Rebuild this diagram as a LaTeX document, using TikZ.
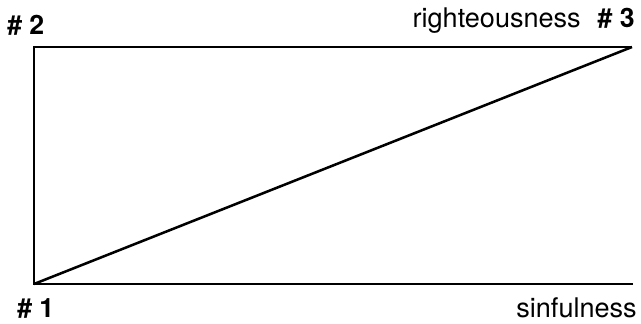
\documentclass[tikz,border=0pt]{standalone}
\usepackage{fontspec}
\setmainfont{TeX Gyre Heros}
\usetikzlibrary{positioning}

\begin{document}
\begin{tikzpicture}[
        x=0.75pt, y=-0.75pt,
        % Styles
        frame/.style={draw=black, line width=1.9pt},
        corner/.style={font=\fontsize{20}{22}\selectfont\bfseries, inner sep=0pt},
        axislabel/.style={font=\fontsize{20.3}{22}\selectfont, inner sep=0pt}
    ]
    \useasboundingbox (0,0) rectangle (641,324);

    % ================= CORNERS =================
    \coordinate (origin) at (34, 284);
    \coordinate (topleft) at (34, 47);
    \coordinate (topright) at (632, 47);
    \coordinate (bottomright) at (633, 284);

    % ================= FRAME =================
    \draw[frame] (bottomright) -- (origin) -- (topleft) -- (topright);
    \draw[frame] (origin) -- (topright);

    % ================= LABELS =================
    \node[corner, anchor=base west] (n2) at (7, 35) {\# 2};
    \node[corner, anchor=base east] (n3) at (635, 28) {\# 3};
    \node[axislabel, anchor=base east] (righteous) at (581, 28) {righteousness};
    \node[corner, anchor=base west] (n1) at (17, 317) {\# 1};
    \node[axislabel, anchor=base east] (sinful) at (637, 317) {sinfulness};

\end{tikzpicture}
\end{document}
